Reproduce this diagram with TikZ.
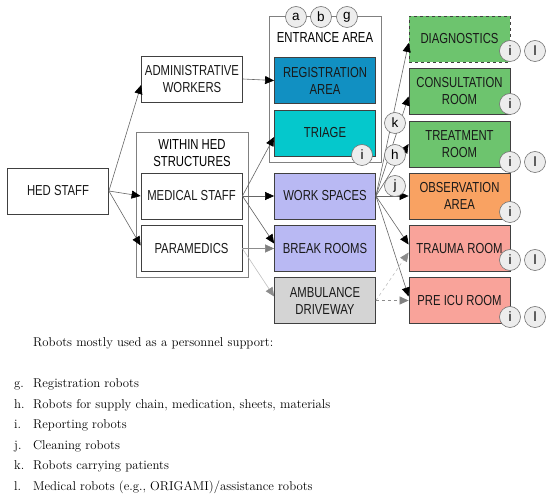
\documentclass[tikz,border=0pt]{standalone}
\usepackage{fontspec}
\usepackage{xcolor}
\usepackage{tikz}
\usetikzlibrary{arrows.meta}

\newfontfamily\boxfont[FakeStretch=0.78]{Liberation Sans}
\newfontfamily\tagfont{Liberation Sans}

\definecolor{regblue}{HTML}{1190C2}
\definecolor{triagecyan}{HTML}{05C8CC}
\definecolor{worklav}{HTML}{B9B9F3}
\definecolor{ambgray}{HTML}{D4D4D4}
\definecolor{roomgreen}{HTML}{6DC46E}
\definecolor{obsorange}{HTML}{F9A262}
\definecolor{icusalmon}{HTML}{F9A39A}

\begin{document}
\begin{tikzpicture}[
    x=1pt, y=-1pt,
    every node/.style={font=\boxfont\fontsize{14.5}{17}\selectfont, align=center},
    box/.style={rectangle, draw=black!75, line width=0.8pt, align=center,
                fill=white, inner sep=1pt, minimum width=101pt, minimum height=46pt,
                text=black!90},
    area/.style={rectangle, draw=black!50, line width=0.8pt,
                 minimum width=112pt, inner sep=0pt},
    tag/.style={circle, draw=black!55, fill=black!7, line width=0.6pt,
                minimum size=21pt, inner sep=0pt,
                font=\tagfont\fontsize{13.5}{13.5}\selectfont},
    arrow/.style={-{Triangle[length=9pt, width=8pt, fill=black, color=black]},
                  line width=0.6pt, draw=black!60},
    grayarrow/.style={-{Triangle[length=9pt, width=8pt, fill=black!50, color=black!50]},
                      line width=0.6pt, draw=black!45},
    lightarrow/.style={-{Triangle[length=9pt, width=8pt, fill=black!45, color=black!45]},
                       line width=0.6pt, draw=black!25},
    lst/.style={anchor=base west, inner sep=0pt, align=left,
                font=\rmfamily\fontsize{12.8}{15}\selectfont}
]
\useasboundingbox (0,0) rectangle (550,497);

% === Staff column ===
\node[box] (hed) at (58,191) {HED STAFF};
\node[box] (admin) at (192,79) {ADMINISTRATIVE\\WORKERS};

\node[area, minimum height=145pt] (within) at (192,204.5) {};
\node (withinlbl) at (192,153) {WITHIN HED\\STRUCTURES};
\node[box] (medical) at (191.5,196) {MEDICAL STAFF};
\node[box] (para) at (191.5,248.5) {PARAMEDICS};

% === Areas column ===
\node[area, minimum height=146pt] (entrance) at (325,89) {};
\node (entrancelbl) at (325,38) {ENTRANCE AREA};
\node[box, fill=regblue] (reg) at (325,80.5) {REGISTRATION\\AREA};
\node[box, fill=triagecyan] (triage) at (325,133) {TRIAGE};
\node[box, fill=worklav] (work) at (325,196) {WORK SPACES};
\node[box, fill=worklav] (break) at (325,248.5) {BREAK ROOMS};
\node[box, fill=ambgray] (amb) at (325,300.5) {AMBULANCE\\DRIVEWAY};

% === Rooms column ===
\node[box, fill=roomgreen, dashed] (diag) at (459.5,39) {DIAGNOSTICS};
\node[box, fill=roomgreen] (consult) at (459.5,91.5) {CONSULTATION\\ROOM};
\node[box, fill=roomgreen] (treat) at (459.5,144) {TREATMENT\\ROOM};
\node[box, fill=obsorange] (obs) at (459.5,196) {OBSERVATION\\AREA};
\node[box, fill=icusalmon] (trauma) at (459.5,248.5) {TRAUMA ROOM};
\node[box, fill=icusalmon] (preicu) at (459.5,300.5) {PRE ICU ROOM};

% === Connectors ===
\draw[arrow] (hed.east) -- ([yshift=-6pt]admin.west);
\draw[arrow] (hed.east) -- (medical.west);
\draw[arrow] (hed.east) -- ([yshift=3pt]para.west);
\draw[arrow] (admin.east) -- (reg.west);
\draw[arrow] (medical.east) -- ([yshift=-4pt]triage.west);
\draw[arrow] (medical.east) -- (work.west);
\draw[arrow] (medical.east) -- ([yshift=5pt]break.west);
\draw[grayarrow] (para.east) -- (break.west);
\draw[lightarrow] (para.east) -- ([yshift=4pt]amb.west);

\draw[arrow] (work.east) -- ([yshift=-4pt]diag.west);
\draw[arrow] (work.east) -- ([yshift=-5pt]consult.west);
\draw[arrow] (work.east) -- (treat.west);
\draw[arrow] (work.east) -- (obs.west);
\draw[arrow] (work.east) -- ([yshift=4pt]trauma.west);
\draw[arrow] (work.east) -- ([yshift=4pt]preicu.west);
\draw[lightarrow, dashed] (amb.east) -- ([yshift=-4pt]trauma.west);
\draw[grayarrow, dashed] (amb.east) -- (preicu.west);

% === Robot tags ===
\node[tag] (ta) at (296,17) {a};
\node[tag] (tb) at (321,17) {b};
\node[tag] (tg) at (347,17) {g};
\node[tag] (triagei) at (362,155) {i};
\node[tag] (tk) at (395,123) {k};
\node[tag] (th) at (395,155) {h};
\node[tag] (tj) at (395,186) {j};
\node[tag] (diagi) at (510,51) {i};
\node[tag] (diagl) at (535,51) {l};
\node[tag] (consulti) at (510,104) {i};
\node[tag] (treati) at (510,162) {i};
\node[tag] (treatl) at (535,162) {l};
\node[tag] (obsi) at (510,212) {i};
\node[tag] (traumai) at (510,260) {i};
\node[tag] (traumal) at (535,260) {l};
\node[tag] (preicui) at (510,317) {i};
\node[tag] (preicul) at (535,317) {l};

% === Legend ===
\node[lst] (legend) at (33,347) {Robots mostly used as a personnel support:};
\node[lst] (lg) at (14,388) {g.};
\node[lst] at (33,388) {Registration robots};
\node[lst] (lh) at (14,409) {h.};
\node[lst] at (33,409) {Robots for supply chain, medication, sheets, materials};
\node[lst] (li) at (14,429) {i.};
\node[lst] at (33,429) {Reporting robots};
\node[lst] (lj) at (14,450) {j.};
\node[lst] at (33,450) {Cleaning robots};
\node[lst] (lk) at (14,470) {k.};
\node[lst] at (33,470) {Robots carrying patients};
\node[lst] (ll) at (14,491) {l.};
\node[lst] at (33,491) {Medical robots (e.g., ORIGAMI)/assistance robots};

\end{tikzpicture}
\end{document}
